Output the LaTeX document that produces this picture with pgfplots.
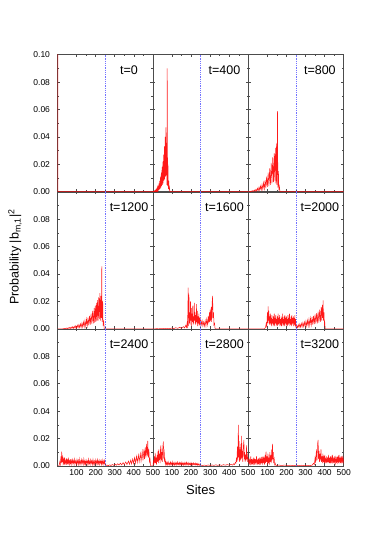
\documentclass[border=0pt]{standalone}
\usepackage{fontspec}
\setmainfont{Liberation Sans}
\usepackage{pgfplots}
\pgfplotsset{compat=1.18}
\definecolor{spine}{gray}{0.3}
\definecolor{sepblue}{rgb}{0.45,0.45,1}
\pgfplotsset{
  panel/.style={
    scale only axis, width=95.4pt, height=137pt, anchor=north west,
    xmin=0, xmax=500, ymin=0, ymax=0.1,
    xtick={100,200,300,400,500}, minor x tick num=1,
    ytick={0,0.02,0.04,0.06,0.08,0.1}, minor y tick num=1,
    tick align=inside, tick pos=both,
    axis line style={spine, line width=0.6pt},
    major tick length=2.5pt, minor tick length=1.5pt,
    every tick/.style={spine, line width=0.5pt},
    xticklabels={}, yticklabels={},
    tick label style={font=\fontsize{8.5}{9}\selectfont},
  },
  leftcol/.style={yticklabel style={xshift=-4pt}},
  probline/.style={draw=red, line width=0.5pt, opacity=0.9},
}
\newcommand{\tlabel}[1]{\node[font=\fontsize{12.5}{13}\selectfont] at (rel axis cs:0.75,0.885) {#1};}
\newcommand{\sepline}{\addplot[sepblue, line width=0.55pt, dash pattern=on 1pt off 0.8pt] coordinates {(250,0) (250,0.1)};}

\begin{document}
\begin{tikzpicture}
\path[use as bounding box] (0,0) rectangle (382pt,-549pt);

% row 1
\begin{axis}[panel, leftcol, at={(57.5pt,-54.7pt)}, yticklabels={0.00,0.02,0.04,0.06,0.08,0.10}]
  \addplot[probline] coordinates {(0,0) (1,1) (2,0) (500,0)};
  \sepline
  \tlabel{t=0}
\end{axis}

\begin{axis}[panel, at={(152.9pt,-54.7pt)}]
  \addplot[probline] coordinates {
    (0,0) (4,0.0003) (6,0) (8,0.0006) (10,0.0001) (12,0.0009) (14,0.0002) (16,0.0013)
    (18,0.0003) (20,0.002) (22,0.0005) (24,0.003) (26,0.0008) (28,0.0045) (30,0.001)
    (32,0.006) (34,0.0015) (36,0.008) (38,0.002) (40,0.011) (42,0.003) (44,0.014)
    (46,0.004) (48,0.018) (50,0.005) (52,0.022) (54,0.006) (56,0.027) (58,0.008)
    (60,0.033) (62,0.009) (64,0.04) (66,0.011) (68,0.047) (70,0.012) (72,0.03)
    (73,0.005) (75,0.09) (77,0.004) (79,0.02) (81,0.002) (83,0.008) (85,0.001)
    (87,0.003) (89,0) (500,0)};
  \sepline
  \tlabel{t=400}
\end{axis}

\begin{axis}[panel, at={(248.3pt,-54.7pt)}]
  \addplot[probline] coordinates {
    (0,0) (8,0.0003) (12,0) (16,0.0005) (20,0.0001) (24,0.0008) (28,0.0002) (32,0.0012)
    (36,0.0003) (40,0.0018) (44,0.0005) (48,0.0025) (52,0.0007) (56,0.0033) (60,0.001)
    (64,0.0042) (68,0.0013) (72,0.0052) (76,0.0017) (80,0.0065) (84,0.002) (88,0.0085)
    (92,0.0026) (96,0.011) (100,0.0035) (104,0.014) (108,0.004) (112,0.017) (116,0.005)
    (120,0.021) (124,0.006) (128,0.025) (132,0.007) (136,0.028) (139,0.008) (142,0.032)
    (145,0.006) (148,0.035) (150,0.005) (153,0.0588) (155,0.003) (158,0.015) (160,0.001)
    (163,0.004) (166,0) (500,0)};
  \sepline
  \tlabel{t=800}
\end{axis}

% row 2
\begin{axis}[panel, leftcol, at={(57.5pt,-191.8pt)}, yticklabels={0.00,0.02,0.04,0.06,0.08,{}}]
  \addplot[probline] coordinates {
    (0,0) (28,0) (32,0.0002) (36,0) (40,0.0004) (44,0.0001) (48,0.0006) (52,0.0001)
    (56,0.0008) (60,0.0002) (64,0.001) (68,0.0003) (72,0.0012) (76,0.0003) (80,0.0015)
    (84,0.0004) (88,0.0018) (92,0.0005) (96,0.0022) (100,0.0006) (104,0.0026) (108,0.0008)
    (112,0.003) (116,0.0009) (120,0.0036) (124,0.001) (128,0.0042) (132,0.0013) (136,0.005)
    (140,0.0015) (144,0.006) (148,0.0018) (152,0.007) (156,0.0022) (160,0.0082) (164,0.0026)
    (168,0.0095) (172,0.003) (176,0.011) (180,0.0035) (184,0.013) (188,0.004) (192,0.015)
    (195,0.0045) (198,0.017) (201,0.005) (204,0.019) (207,0.006) (210,0.021) (213,0.006)
    (216,0.023) (219,0.007) (222,0.026) (225,0.006) (228,0.024) (230,0.008) (232,0.0455)
    (234,0.005) (237,0.02) (239,0.002) (242,0.006) (245,0) (500,0)};
  \sepline
  \tlabel{t=1200}
\end{axis}

\begin{axis}[panel, at={(152.9pt,-191.8pt)}]
  \addplot[probline] coordinates {
    (0,0) (10,0) (20,0.0001) (30,0) (40,0.0002) (50,0.0001) (60,0.0003) (70,0.0001)
    (80,0.0004) (90,0.0002) (100,0.0006) (110,0.0002) (120,0.0008) (130,0.0003) (140,0.0011)
    (150,0.0004) (160,0.0016) (166,0.0006) (172,0.0025) (176,0.001) (179,0.004) (181,0.0005)
    (183,0.012) (185,0.03) (187,0.002) (189,0.025) (191,0.004) (193,0.012) (195,0.003)
    (197,0.02) (199,0.006) (201,0.015) (203,0.002) (205,0.011) (207,0.005) (209,0.017)
    (211,0.003) (213,0.009) (215,0.004) (217,0.019) (219,0.006) (221,0.012) (223,0.003)
    (225,0.01) (227,0.005) (229,0.018) (231,0.004) (233,0.013) (235,0.002) (237,0.009)
    (239,0.004) (241,0.011) (243,0.003) (245,0.008) (247,0.002) (250,0.007) (254,0.003)
    (258,0.006) (262,0.002) (266,0.005) (270,0.002) (274,0.006) (278,0.002) (282,0.007)
    (286,0.003) (290,0.009) (293,0.004) (296,0.012) (298,0.005) (300,0.014) (303,0.006)
    (306,0.016) (308,0.005) (311,0.02) (313,0.024) (315,0.008) (318,0.012) (320,0.003)
    (323,0.004) (326,0) (500,0)};
  \sepline
  \tlabel{t=1600}
\end{axis}

\begin{axis}[panel, at={(248.3pt,-191.8pt)}]
  \addplot[probline] coordinates {
    (0,0) (85,0) (90,0.001) (94,0.004) (97,0.001) (100,0.012) (102,0.004) (104,0.0163)
    (106,0.006) (108,0.013) (110,0.003) (112,0.009) (114,0.004) (116,0.011) (118,0.003)
    (120,0.008) (122,0.002) (124,0.01) (126,0.004) (128,0.007) (130,0.002) (132,0.009)
    (134,0.003) (136,0.011) (138,0.002) (140,0.008) (142,0.004) (144,0.01) (146,0.002)
    (148,0.007) (150,0.003) (152,0.009) (154,0.002) (156,0.011) (158,0.003) (160,0.008)
    (162,0.004) (164,0.01) (166,0.002) (168,0.007) (170,0.003) (172,0.009) (174,0.002)
    (176,0.008) (178,0.004) (180,0.011) (182,0.002) (184,0.007) (186,0.003) (188,0.009)
    (190,0.002) (192,0.01) (194,0.004) (196,0.008) (198,0.002) (200,0.009) (202,0.003)
    (204,0.007) (206,0.002) (208,0.01) (210,0.003) (212,0.008) (214,0.004) (216,0.011)
    (218,0.002) (220,0.007) (222,0.003) (224,0.009) (226,0.002) (228,0.01) (230,0.003)
    (232,0.008) (234,0.004) (236,0.009) (238,0.002) (240,0.008) (242,0.003) (244,0.01)
    (246,0.002) (248,0.007) (250,0.001) (254,0.0025) (258,0.0008) (262,0.003) (266,0.001)
    (270,0.0035) (274,0.0012) (278,0.004) (282,0.0014) (286,0.0045) (290,0.0016) (294,0.005)
    (298,0.0018) (302,0.0056) (306,0.002) (310,0.0062) (314,0.0022) (318,0.007) (322,0.0025)
    (326,0.0078) (330,0.0028) (334,0.0086) (338,0.003) (342,0.0095) (346,0.0034) (350,0.0105)
    (354,0.0038) (358,0.0115) (362,0.004) (366,0.0125) (370,0.0045) (374,0.014) (378,0.005)
    (382,0.016) (385,0.006) (388,0.0175) (390,0.008) (392,0.0207) (394,0.006) (397,0.012)
    (399,0.002) (401,0.004) (403,0) (500,0)};
  \sepline
  \tlabel{t=2000}
\end{axis}

% row 3
\begin{axis}[panel, leftcol, at={(57.5pt,-328.9pt)}, yticklabels={0.00,0.02,0.04,0.06,0.08,{}},
  xticklabels={100,200,300,400,500}]
  \addplot[probline] coordinates {
    (0,0) (8,0) (12,0.003) (15,0.001) (18,0.007) (20,0.002) (22,0.0105) (24,0.003)
    (27,0.006) (29,0.002) (32,0.005) (34,0.001) (37,0.0062) (39,0.002) (42,0.004) (44,0.001)
    (47,0.0055) (49,0.002) (52,0.004) (54,0.001) (57,0.006) (59,0.002) (62,0.0035) (64,0.001)
    (67,0.005) (69,0.002) (72,0.004) (75,0.001) (78,0.0045) (81,0.002) (84,0.0038) (87,0.001)
    (90,0.005) (93,0.002) (96,0.0035) (99,0.001) (102,0.0045) (105,0.002) (108,0.004)
    (111,0.001) (114,0.005) (117,0.0015) (120,0.0035) (123,0.001) (126,0.0045) (129,0.002)
    (132,0.004) (135,0.001) (138,0.005) (141,0.0015) (144,0.0035) (147,0.001) (150,0.0042)
    (153,0.002) (156,0.0036) (159,0.001) (162,0.0048) (165,0.0015) (168,0.0035) (171,0.001)
    (174,0.0044) (177,0.002) (180,0.0038) (183,0.001) (186,0.0046) (189,0.0015) (192,0.0034)
    (195,0.001) (198,0.0043) (201,0.002) (204,0.0036) (207,0.001) (210,0.0045) (213,0.0015)
    (216,0.0035) (219,0.001) (222,0.0042) (225,0.002) (228,0.0037) (231,0.001) (234,0.0044)
    (237,0.0015) (240,0.0036) (243,0.001) (246,0.004) (249,0.0015) (252,0.0003) (260,0.0006)
    (266,0.0002) (274,0.0008) (280,0.0003) (288,0.001) (294,0.0004) (302,0.0013) (308,0.0005)
    (316,0.0016) (322,0.0006) (330,0.002) (336,0.0007) (344,0.0024) (350,0.0009) (358,0.0029)
    (364,0.001) (372,0.0035) (377,0.0012) (384,0.0042) (388,0.0015) (394,0.005) (398,0.0018)
    (404,0.006) (408,0.002) (414,0.007) (418,0.0025) (424,0.008) (428,0.003) (434,0.009)
    (438,0.0035) (444,0.0105) (448,0.004) (453,0.012) (456,0.005) (460,0.0135) (463,0.006)
    (467,0.016) (470,0.007) (473,0.0182) (476,0.006) (479,0.012) (482,0.003) (485,0.005)
    (488,0) (500,0)};
  \sepline
  \tlabel{t=2400}
\end{axis}

\begin{axis}[panel, at={(152.9pt,-328.9pt)}, xticklabels={100,200,300,400,500}]
  \addplot[probline] coordinates {
    (0,0) (3,0.004) (5,0.001) (8,0.007) (10,0.002) (12,0.0095) (14,0.002) (17,0.006)
    (19,0.001) (22,0.008) (24,0.003) (27,0.011) (29,0.002) (31,0.012) (33,0.004) (36,0.009)
    (38,0.002) (40,0.013) (42,0.015) (44,0.004) (47,0.01) (49,0.003) (52,0.014) (55,0.0178)
    (57,0.005) (59,0.012) (61,0.003) (63,0.006) (65,0.001) (68,0.003) (71,0.001) (74,0.0025)
    (77,0.0008) (80,0.003) (83,0.001) (86,0.002) (89,0.0006) (92,0.0028) (95,0.001) (98,0.0022)
    (101,0.0007) (104,0.003) (107,0.001) (110,0.002) (113,0.0006) (116,0.0026) (119,0.001)
    (122,0.0021) (125,0.0007) (128,0.0028) (131,0.001) (134,0.002) (137,0.0006) (140,0.0025)
    (143,0.001) (146,0.0022) (149,0.0007) (152,0.0027) (155,0.001) (158,0.002) (161,0.0006)
    (164,0.0024) (167,0.001) (170,0.0021) (173,0.0007) (176,0.0026) (179,0.001) (182,0.002)
    (185,0.0006) (188,0.0023) (191,0.001) (194,0.0019) (197,0.0007) (200,0.0024) (203,0.001)
    (206,0.0018) (209,0.0006) (212,0.0022) (215,0.001) (218,0.0017) (221,0.0006) (224,0.002)
    (227,0.0008) (230,0.0016) (233,0.0005) (236,0.0018) (239,0.0007) (242,0.0014) (245,0.0004)
    (250,0.0006) (260,0.0003) (270,0.0006) (280,0.0003) (290,0.0007) (300,0.0003) (310,0.0007)
    (320,0.0004) (330,0.0008) (340,0.0004) (350,0.0008) (360,0.0004) (370,0.0009) (380,0.0005)
    (390,0.001) (400,0.0005) (410,0.0012) (418,0.0006) (424,0.0016) (428,0.001) (432,0.0025)
    (435,0.002) (438,0.006) (440,0.003) (443,0.014) (445,0.004) (448,0.03) (450,0.006)
    (452,0.018) (454,0.003) (456,0.012) (458,0.004) (461,0.016) (463,0.005) (465,0.022)
    (467,0.006) (469,0.011) (471,0.003) (474,0.014) (477,0.019) (479,0.005) (481,0.01)
    (483,0.003) (486,0.008) (488,0.004) (491,0.015) (493,0.005) (495,0.009) (497,0.003)
    (500,0.006)};
  \sepline
  \tlabel{t=2800}
\end{axis}

\begin{axis}[panel, at={(248.3pt,-328.9pt)}, xticklabels={100,200,300,400,500}]
  \addplot[probline] coordinates {
    (0,0.002) (3,0.006) (5,0.001) (8,0.004) (10,0.002) (13,0.007) (15,0.001) (18,0.005)
    (20,0.002) (23,0.004) (25,0.001) (28,0.006) (30,0.002) (33,0.0045) (35,0.001) (38,0.005)
    (40,0.002) (43,0.007) (45,0.001) (48,0.004) (50,0.002) (53,0.0055) (55,0.001) (58,0.006)
    (60,0.002) (63,0.0045) (65,0.001) (68,0.0065) (70,0.002) (73,0.005) (75,0.001) (78,0.007)
    (80,0.002) (83,0.006) (85,0.001) (88,0.008) (90,0.002) (93,0.0105) (95,0.003) (98,0.007)
    (100,0.001) (103,0.009) (105,0.002) (108,0.006) (110,0.001) (113,0.01) (115,0.003)
    (118,0.008) (120,0.002) (123,0.012) (125,0.004) (127,0.016) (129,0.005) (131,0.01)
    (133,0.002) (136,0.005) (138,0.001) (141,0.002) (145,0.0003) (160,0.0006) (175,0.0003)
    (190,0.0006) (205,0.0003) (220,0.0005) (235,0.0002) (250,0.0005) (265,0.0002) (280,0.0005)
    (295,0.0002) (310,0.0004) (325,0.0002) (335,0.0006) (342,0.002) (346,0.001) (350,0.006)
    (353,0.002) (357,0.012) (360,0.004) (363,0.016) (366,0.019) (368,0.005) (371,0.011)
    (373,0.003) (376,0.009) (378,0.004) (381,0.012) (383,0.003) (386,0.007) (388,0.002)
    (391,0.009) (393,0.003) (396,0.006) (398,0.002) (401,0.008) (403,0.003) (406,0.005)
    (408,0.002) (411,0.007) (413,0.002) (416,0.006) (418,0.003) (421,0.008) (423,0.002)
    (426,0.005) (428,0.002) (431,0.007) (433,0.003) (436,0.006) (438,0.002) (441,0.008)
    (443,0.003) (446,0.005) (448,0.002) (451,0.007) (453,0.003) (456,0.006) (458,0.002)
    (461,0.005) (463,0.002) (466,0.007) (468,0.003) (471,0.006) (473,0.002) (476,0.008)
    (478,0.003) (481,0.005) (483,0.002) (486,0.007) (488,0.003) (491,0.006) (493,0.002)
    (496,0.007) (498,0.003) (500,0.005)};
  \sepline
  \tlabel{t=3200}
\end{axis}

\node[rotate=90, font=\fontsize{12.5}{13}\selectfont] at (15pt,-257pt)
  {Probability |b\textsubscript{m,1}|\textsuperscript{2}};
\node[font=\fontsize{13}{14}\selectfont] at (200.6pt,-490pt) {Sites};
\end{tikzpicture}
\end{document}
